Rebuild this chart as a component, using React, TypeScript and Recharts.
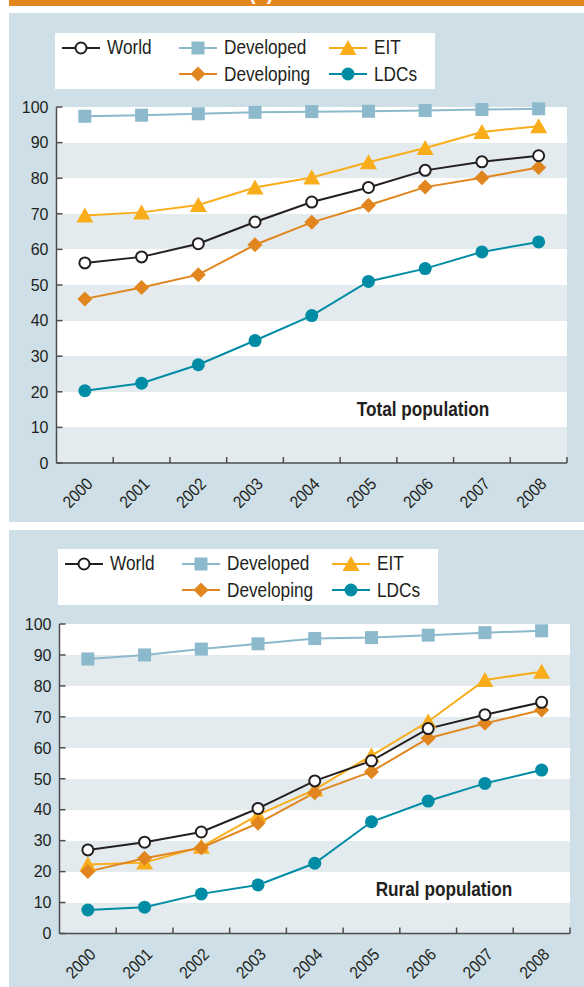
import { LineChart, Line, XAxis, YAxis, CartesianGrid } from "recharts";

const YEARS = ["2000", "2001", "2002", "2003", "2004", "2005", "2006", "2007", "2008"];
const Y_TICKS = [0, 10, 20, 30, 40, 50, 60, 70, 80, 90, 100];

// Total population (%)
const TOTAL_WORLD = [56.2, 57.9, 61.6, 67.7, 73.3, 77.4, 82.2, 84.6, 86.3];
const TOTAL_DEVELOPED = [97.4, 97.7, 98.1, 98.5, 98.7, 98.8, 99.0, 99.3, 99.5];
const TOTAL_EIT = [69.5, 70.4, 72.5, 77.4, 80.2, 84.5, 88.5, 93.0, 94.6];
const TOTAL_DEVELOPING = [46.1, 49.3, 52.9, 61.3, 67.6, 72.4, 77.5, 80.1, 83.0];
const TOTAL_LDCS = [20.3, 22.4, 27.6, 34.4, 41.4, 51.0, 54.6, 59.3, 62.1];

// Rural population (%)
const RURAL_WORLD = [27.0, 29.5, 32.8, 40.4, 49.3, 55.8, 66.2, 70.7, 74.7];
const RURAL_DEVELOPED = [88.7, 90.0, 91.9, 93.6, 95.3, 95.6, 96.4, 97.2, 97.8];
const RURAL_EIT = [22.3, 22.9, 28.0, 38.3, 46.5, 57.5, 68.5, 81.9, 84.6];
const RURAL_DEVELOPING = [20.0, 24.3, 27.7, 35.6, 45.5, 52.3, 63.1, 67.9, 72.2];
const RURAL_LDCS = [7.6, 8.5, 12.8, 15.7, 22.7, 36.1, 42.8, 48.5, 52.8];

const ORANGE = "#e2861c";
const PANEL_BG = "#cedfe7";
const BAND = "#e3ebef";
const AXIS = "#4d4d4d";
const INK = "#231f20";
const FONT = "'Liberation Sans', Arial, sans-serif";
// the original uses a condensed face; squeeze Liberation Sans to mimic it
const SQUEEZE = 0.82;

type Shape = "open" | "square" | "triangle" | "diamond" | "dot";

// drawing order: developed, eit, developing, world, ldcs
const SERIES: { key: string; name: string; color: string; shape: Shape }[] = [
  { key: "developed", name: "Developed", color: "#8cb9cb", shape: "square" },
  { key: "eit", name: "EIT", color: "#f9ad1a", shape: "triangle" },
  { key: "developing", name: "Developing", color: "#e1861f", shape: "diamond" },
  { key: "world", name: "World", color: INK, shape: "open" },
  { key: "ldcs", name: "LDCs", color: "#008ca4", shape: "dot" },
];

// legend slot per series: [column x, row y] relative to the legend box
const LEGEND_SLOTS: Record<string, [number, number]> = {
  world: [7, 14.5],
  developed: [124, 14.5],
  eit: [274, 14.5],
  developing: [124, 41],
  ldcs: [274, 41],
};

function buildRows(world: number[], developed: number[], eit: number[], developing: number[], ldcs: number[]) {
  return YEARS.map((year, i) => ({
    year,
    world: world[i],
    developed: developed[i],
    eit: eit[i],
    developing: developing[i],
    ldcs: ldcs[i],
  }));
}

const TOTAL_ROWS = buildRows(TOTAL_WORLD, TOTAL_DEVELOPED, TOTAL_EIT, TOTAL_DEVELOPING, TOTAL_LDCS);
const RURAL_ROWS = buildRows(RURAL_WORLD, RURAL_DEVELOPED, RURAL_EIT, RURAL_DEVELOPING, RURAL_LDCS);

function Marker({ shape, cx, cy, color }: { shape: Shape; cx: number; cy: number; color: string }) {
  switch (shape) {
    case "open":
      return <circle cx={cx} cy={cy} r={5.5} fill="#fff" stroke={color} strokeWidth={2} />;
    case "square":
      return <rect x={cx - 6.5} y={cy - 6.5} width={13} height={13} fill={color} />;
    case "triangle":
      return (
        <polygon
          points={`${cx},${cy - 8} ${cx - 8.5},${cy + 7} ${cx + 8.5},${cy + 7}`}
          fill={color}
        />
      );
    case "diamond":
      return (
        <polygon
          points={`${cx},${cy - 7.5} ${cx + 7.5},${cy} ${cx},${cy + 7.5} ${cx - 7.5},${cy}`}
          fill={color}
        />
      );
    default:
      return <circle cx={cx} cy={cy} r={6.5} fill={color} />;
  }
}

function ChartLegend({ left, top }: { left: number; top: number }) {
  return (
    <div
      style={{
        position: "absolute",
        left,
        top,
        width: 380,
        height: 56,
        background: "#fff",
      }}
    >
      {SERIES.map((s) => {
        const [cx, cy] = LEGEND_SLOTS[s.key];
        return (
          <div key={s.key}>
            <svg
              width={38}
              height={20}
              style={{ position: "absolute", left: cx, top: cy - 10 }}
            >
              <line x1={0} x2={38} y1={10} y2={10} stroke={s.color} strokeWidth={2} />
              <Marker shape={s.shape} cx={19} cy={10} color={s.color} />
            </svg>
            <div
              style={{
                position: "absolute",
                left: cx + 45,
                top: cy - 12.5,
                fontFamily: FONT,
                fontSize: 21,
                lineHeight: "24px",
                color: INK,
                whiteSpace: "nowrap",
                transform: `scaleX(${SQUEEZE})`,
                transformOrigin: "0 0",
              }}
            >
              {s.name}
            </div>
          </div>
        );
      })}
    </div>
  );
}

interface PanelProps {
  rows: ReturnType<typeof buildRows>;
  title: string;
  top: number;
  height: number;
  yAxisWidth: number;
  right: number;
  plotTop: number;
  xAxisHeight: number;
  legendLeft: number;
  legendTop: number;
  titleX: number;
  titleY: number;
}

const PANEL_WIDTH = 575;

function Panel(p: PanelProps) {
  const halfBand = (PANEL_WIDTH - p.yAxisWidth - p.right) / YEARS.length / 2;

  const renderXTick = (props: any) => {
    const { x, y, payload } = props;
    return (
      <g>
        <line x1={x + halfBand} x2={x + halfBand} y1={y} y2={y - 6} stroke={AXIS} strokeWidth={1.5} />
        <text
          transform={`translate(${x + 9},${y + 22}) rotate(-45) scale(${SQUEEZE + 0.08},1)`}
          textAnchor="end"
          fontFamily={FONT}
          fontSize={17}
          fill={INK}
        >
          {payload.value}
        </text>
      </g>
    );
  };

  const renderYTick = (props: any) => {
    const { x, y, payload } = props;
    return (
      <g>
        <line x1={x} x2={x + 6} y1={y} y2={y} stroke={AXIS} strokeWidth={1.5} />
        <text
          x={x - 8}
          y={y}
          dy="0.36em"
          textAnchor="end"
          fontFamily={FONT}
          fontSize={16}
          fill={INK}
        >
          {payload.value}
        </text>
      </g>
    );
  };

  return (
    <div
      style={{
        position: "absolute",
        left: 9,
        top: p.top,
        width: PANEL_WIDTH,
        height: p.height,
        background: PANEL_BG,
      }}
    >
      <LineChart
        width={PANEL_WIDTH}
        height={p.height}
        data={p.rows}
        margin={{ top: p.plotTop, right: p.right, bottom: 0, left: 0 }}
      >
        <CartesianGrid
          vertical={false}
          horizontal
          stroke="none"
          fill="#fff"
          horizontalFill={["#fff", BAND]}
        />
        <XAxis
          dataKey="year"
          height={p.xAxisHeight}
          padding={{ left: halfBand, right: halfBand }}
          tickSize={0}
          tickMargin={0}
          tickLine={false}
          interval={0}
          axisLine={{ stroke: AXIS, strokeWidth: 1.5 }}
          tick={renderXTick}
        />
        <YAxis
          domain={[0, 100]}
          ticks={Y_TICKS}
          width={p.yAxisWidth}
          tickSize={0}
          tickMargin={0}
          tickLine={false}
          interval={0}
          axisLine={{ stroke: AXIS, strokeWidth: 1.5 }}
          tick={renderYTick}
        />
        {SERIES.map((s) => (
          <Line
            key={s.key}
            type="linear"
            dataKey={s.key}
            name={s.name}
            stroke={s.color}
            strokeWidth={2}
            isAnimationActive={false}
            activeDot={false}
            dot={(d: any) => (
              <Marker key={`${s.key}-${d.index}`} shape={s.shape} cx={d.cx} cy={d.cy} color={s.color} />
            )}
          />
        ))}
      </LineChart>
      <ChartLegend left={p.legendLeft} top={p.legendTop} />
      <svg
        width={PANEL_WIDTH}
        height={p.height}
        style={{ position: "absolute", left: 0, top: 0, pointerEvents: "none" }}
      >
        <text
          transform={`translate(${p.titleX},${p.titleY}) scale(${SQUEEZE},1)`}
          textAnchor="middle"
          fontFamily={FONT}
          fontWeight="bold"
          fontSize={21}
          fill={INK}
        >
          {p.title}
        </text>
      </svg>
    </div>
  );
}

export default function App() {
  return (
    <div style={{ position: "absolute", left: 0, top: 0, width: 584, height: 987, background: "#fff" }}>
      <div
        style={{
          position: "absolute",
          left: 9,
          top: 0,
          width: PANEL_WIDTH,
          height: 6,
          background: ORANGE,
          overflow: "hidden",
        }}
      >
        <span
          style={{
            position: "absolute",
            left: 240,
            top: -19,
            color: "#fff",
            fontFamily: FONT,
            fontWeight: "bold",
            fontSize: 20,
            lineHeight: "24px",
          }}
        >
          (a)
        </span>
      </div>
      <Panel
        rows={TOTAL_ROWS}
        title="Total population"
        top={13}
        height={509}
        yAxisWidth={47.5}
        right={17}
        plotTop={94}
        xAxisHeight={59}
        legendLeft={46}
        legendTop={20}
        titleX={414}
        titleY={403}
      />
      <Panel
        rows={RURAL_ROWS}
        title="Rural population"
        top={530}
        height={457}
        yAxisWidth={50.5}
        right={14}
        plotTop={94}
        xAxisHeight={53.5}
        legendLeft={48.7}
        legendTop={19.3}
        titleX={435}
        titleY={366}
      />
    </div>
  );
}
